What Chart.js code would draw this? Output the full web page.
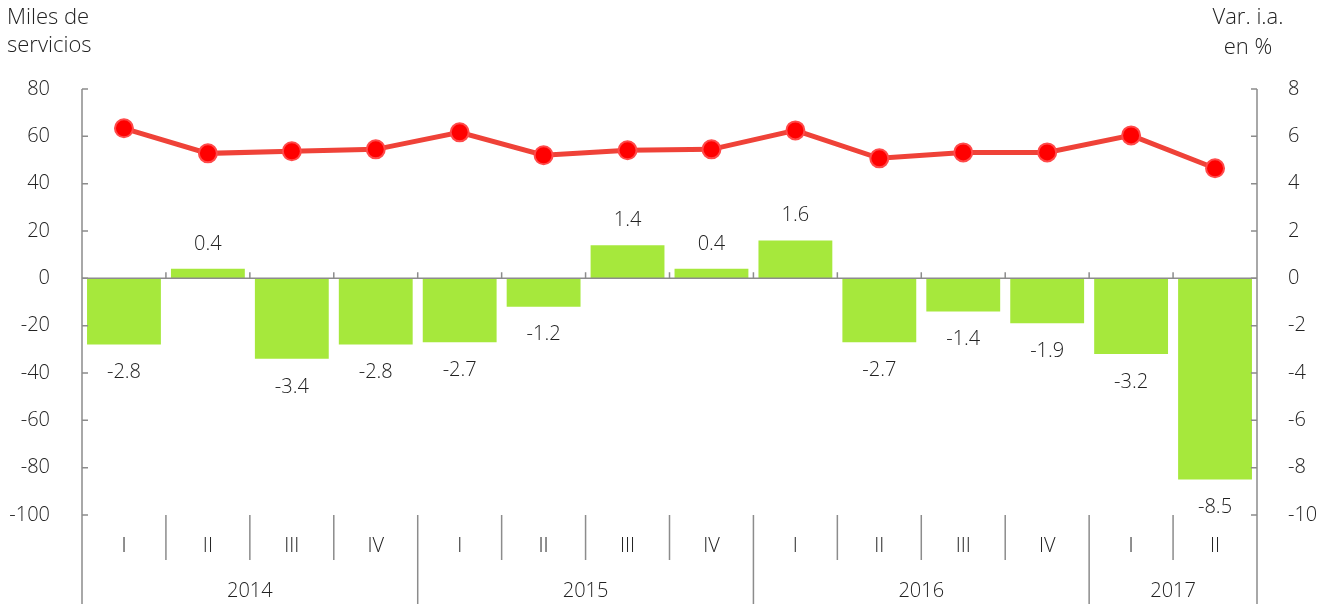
<!DOCTYPE html>
<html lang="es">
<head>
<meta charset="UTF-8">
<title>Servicios - variación interanual</title>
<script src="https://cdn.jsdelivr.net/npm/chart.js"></script>
<style>
    html, body { margin: 0; padding: 0; background: #fff; }
    .chart-box { position: relative; width: 1323px; height: 604px; }
</style>
</head>
<body>
<div class="chart-box">
    <canvas id="serviciosChart"></canvas>
</div>
<script>
// Datos
const trimestres = ['I', 'II', 'III', 'IV', 'I', 'II', 'III', 'IV', 'I', 'II', 'III', 'IV', 'I', 'II'];
const anios = ['2014', '2015', '2016', '2017'];
const trimestresPorAnio = [4, 4, 4, 2];
const milesServicios = [63.4, 52.8, 53.7, 54.5, 61.7, 52.0, 54.1, 54.5, 62.5, 50.7, 53.2, 53.2, 60.4, 46.5];
const variacionIA = [-2.8, 0.4, -3.4, -2.8, -2.7, -1.2, 1.4, 0.4, 1.6, -2.7, -1.4, -1.9, -3.2, -8.5];

const FONT = '"Open Sans", Lato, sans-serif';
const TEXT = '#222';
const AXIS = '#8c8c8c';

// ejes, separadores y etiquetas
const extras = {
    id: 'extras',
    afterDatasetsDraw(chart) {
        const ctx = chart.ctx;
        const area = chart.chartArea;
        const x = chart.scales.x;
        const y = chart.scales.y;
        const y2 = chart.scales.y2;
        const H = chart.height;
        ctx.save();
        ctx.strokeStyle = AXIS;
        ctx.lineWidth = 1.5;

        // línea del cero
        const y0 = y.getPixelForValue(0);
        ctx.beginPath();
        ctx.moveTo(area.left, y0);
        ctx.lineTo(area.right, y0);
        ctx.stroke();

        // ejes verticales
        ctx.beginPath();
        ctx.moveTo(area.left, area.top);
        ctx.lineTo(area.left, H);
        ctx.moveTo(area.right, area.top);
        ctx.lineTo(area.right, H);
        ctx.stroke();

        // marcas de los ejes
        ctx.beginPath();
        y.ticks.forEach(t => {
            const py = y.getPixelForValue(t.value);
            ctx.moveTo(area.left, py);
            ctx.lineTo(area.left + 6, py);
        });
        y2.ticks.forEach(t => {
            const py = y2.getPixelForValue(t.value);
            ctx.moveTo(area.right, py);
            ctx.lineTo(area.right - 6, py);
        });
        ctx.stroke();

        // separadores de trimestres y años
        const step = (area.right - area.left) / trimestres.length;
        const finAnio = [];
        let acc = 0;
        trimestresPorAnio.forEach(n => { acc += n; finAnio.push(acc); });
        ctx.beginPath();
        for (let i = 1; i < trimestres.length; i++) {
            const px = area.left + i * step;
            ctx.moveTo(px, y0);
            ctx.lineTo(px, y0 - 6);
            ctx.moveTo(px, area.bottom);
            ctx.lineTo(px, finAnio.includes(i) ? H : area.bottom + 45);
        }
        ctx.stroke();

        // etiquetas del eje x
        ctx.fillStyle = TEXT;
        ctx.font = '300 20px ' + FONT;
        ctx.textAlign = 'center';
        ctx.textBaseline = 'middle';
        trimestres.forEach((q, i) => {
            ctx.fillText(q, x.getPixelForValue(i), area.bottom + 31);
        });
        let inicio = 0;
        anios.forEach((a, k) => {
            const fin = inicio + trimestresPorAnio[k];
            ctx.fillText(a, area.left + (inicio + fin) / 2 * step, area.bottom + 76);
            inicio = fin;
        });

        // valores de las barras
        const meta = chart.getDatasetMeta(0);
        meta.data.forEach((bar, i) => {
            const v = variacionIA[i];
            const py = v >= 0 ? bar.y - 25 : bar.y + 28;
            ctx.fillText(v.toFixed(1), bar.x, py);
        });

        // títulos de ejes
        ctx.font = '300 22px ' + FONT;
        ctx.textAlign = 'left';
        ctx.fillText('Miles de', 7, 18);
        ctx.fillText('servicios', 7, 46);
        ctx.textAlign = 'center';
        ctx.fillText('Var. i.a.', 1248, 18);
        ctx.fillText('en %', 1248, 48);
        ctx.restore();
    }
};

new Chart(document.getElementById('serviciosChart'), {
    data: {
        labels: trimestres,
        datasets: [
            {
                type: 'bar',
                label: 'Var. i.a. (%)',
                data: variacionIA,
                yAxisID: 'y2',
                backgroundColor: '#a6e83c',
                categoryPercentage: 0.88,
                barPercentage: 1.0,
                order: 2
            },
            {
                type: 'line',
                label: 'Miles de servicios',
                data: milesServicios,
                yAxisID: 'y',
                borderColor: '#ef4238',
                borderWidth: 5,
                pointBackgroundColor: '#ff0000',
                pointBorderColor: '#ff4a4a',
                pointBorderWidth: 2,
                pointRadius: 9,
                tension: 0,
                order: 1
            }
        ]
    },
    options: {
        responsive: true,
        maintainAspectRatio: false,
        animation: false,
        layout: { padding: { top: 89, bottom: 89 } },
        plugins: {
            legend: { display: false },
            tooltip: { enabled: false }
        },
        scales: {
            x: { display: false, offset: true },
            y: {
                position: 'left',
                min: -100, max: 80,
                ticks: { stepSize: 20, color: TEXT, font: { family: FONT, size: 20, weight: '300' }, padding: 24 },
                grid: { display: false },
                border: { display: false },
                afterFit(scale) { scale.width = 82; }
            },
            y2: {
                position: 'right',
                min: -10, max: 8,
                ticks: { stepSize: 2, color: TEXT, font: { family: FONT, size: 20, weight: '300' }, padding: 23 },
                grid: { display: false },
                border: { display: false },
                afterFit(scale) { scale.width = 66; }
            }
        }
    },
    plugins: [extras]
});
</script>
</body>
</html>
